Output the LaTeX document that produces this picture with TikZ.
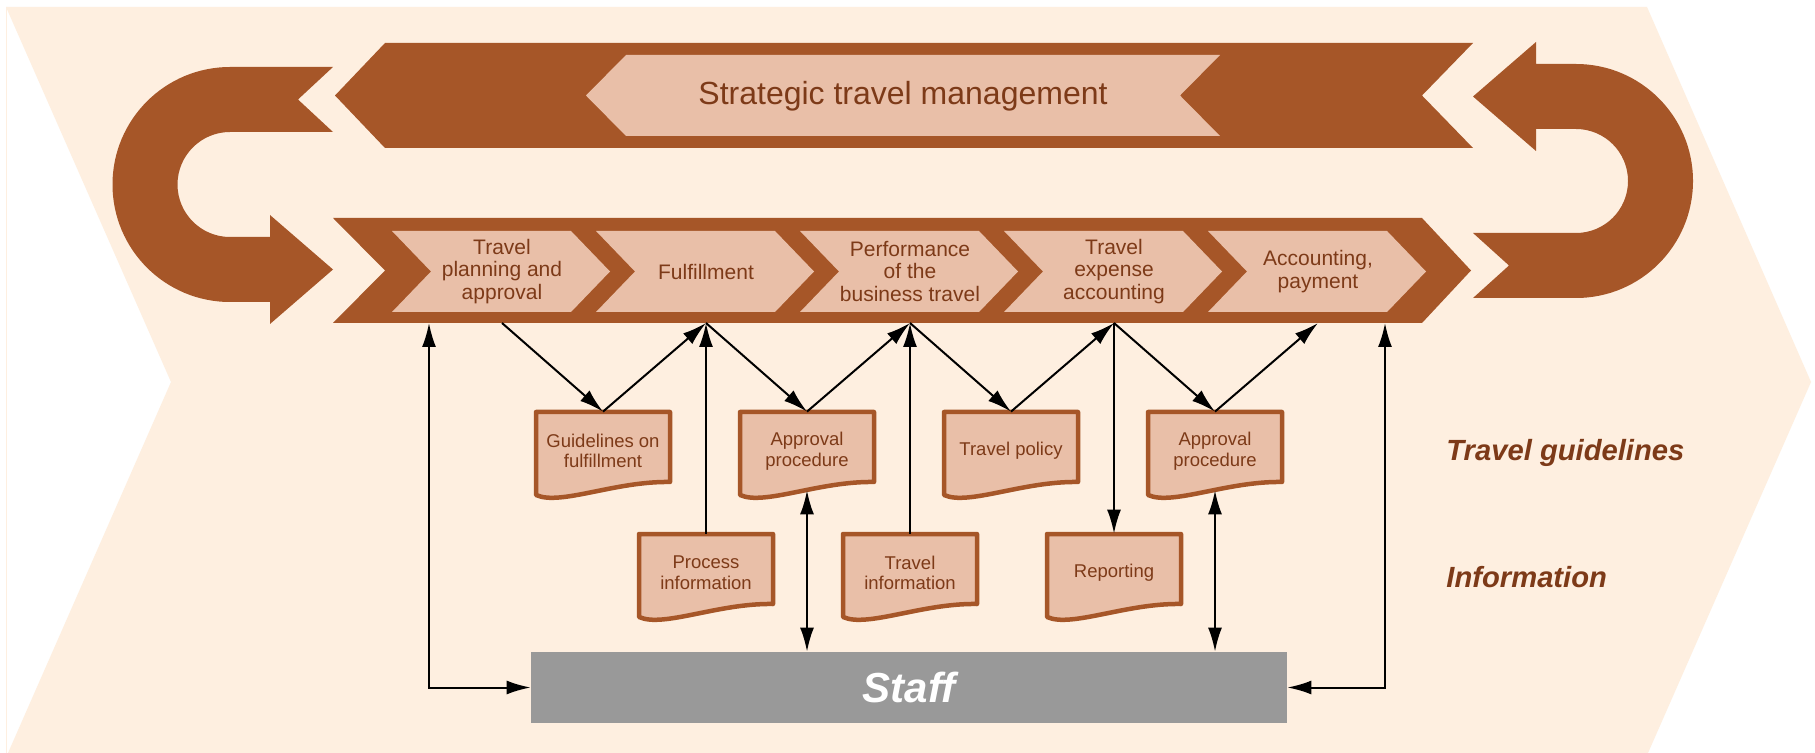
\documentclass[tikz,border=0pt]{standalone}
\usepackage{fontspec}
\setmainfont{Liberation Sans}
\usepackage{tikz}
\usetikzlibrary{arrows.meta,calc,positioning}
\definecolor{bandbrown}{HTML}{A65628}
\definecolor{chevfill}{HTML}{E9BFA8}
\definecolor{bgpeach}{HTML}{FEEFE0}
\definecolor{txtbrown}{HTML}{7D3A18}
\definecolor{staffgray}{HTML}{999999}

\newcommand{\docbox}[4]{%
\draw[docline] (#2-67,#3) -- (#2+67,#3) -- (#2+67,#3+70)
  .. controls (#2+12,#3+69) and (#2-43,#3+94) .. (#2-67,#3+83) -- cycle;
\node[doctext] (#1) at (#2,#3+39) {#4};}

\begin{document}
\begin{tikzpicture}[x=0.5pt,y=-0.5pt,
  >={Latex[length=12pt,width=7pt]},
  conn/.style={line width=1pt,black},
  docline/.style={draw=bandbrown,fill=chevfill,line width=2.25pt,line join=round},
  doctext/.style={font=\fontsize{9.25}{10.3}\selectfont,text=txtbrown,align=center,
    minimum width=67pt,minimum height=39pt,inner sep=0pt},
  steptext/.style={font=\fontsize{10.5}{11.25}\selectfont,text=txtbrown,align=center,inner sep=0pt},
  sidetext/.style={font=\fontsize{14.6}{17}\selectfont\bfseries\itshape,text=txtbrown,
    anchor=west,inner sep=0pt}]
\fill[white] (0,0) rectangle (1815,753);
\useasboundingbox (0,0) rectangle (1815,753);

% big background arrow
\fill[bgpeach] (6,7) -- (1647,7) -- (1811,382) -- (1648,753) -- (8,753) -- (171,382) -- cycle;
\draw[bgpeach,line width=0.3pt] (6,7) -- (6,753);

% strategic band and loops
\fill[bandbrown] (335,95.5) -- (385,43) -- (1473,43) -- (1422,95.5) -- (1473,148) -- (385,148) -- cycle;
\fill[chevfill] (586,95.5) -- (626,55) -- (1220,55) -- (1180,95.5) -- (1220,136) -- (626,136) -- cycle;
\node[font=\fontsize{16}{19}\selectfont,text=txtbrown] (stm) at (903,96) {Strategic travel management};

\fill[bandbrown] (333,67) -- (298,99.5) -- (333,132) -- (230,132)
  arc[start angle=-90,end angle=-270,radius=52.5] -- (270,237) -- (270,215) -- (333,269.5)
  -- (270,324) -- (270,302) -- (230,302) arc[start angle=90,end angle=270,radius=117.5] -- cycle;
\fill[bandbrown] (1473,96.5) -- (1536,42) -- (1536,64) -- (1576,64)
  arc[start angle=-90,end angle=90,radius=117] -- (1473,298) -- (1509,265.5) -- (1473,233)
  -- (1576,233) arc[start angle=90,end angle=-90,radius=52] -- (1536,129) -- (1536,151) -- cycle;

% process band
\fill[bandbrown] (333,218) -- (1422,218) -- (1471,270.5) -- (1422,323) -- (333,323) -- (385,270.5) -- cycle;
\foreach \x/\nm/\txt in {392/st1/{Travel\\planning and\\approval}, 596/st2/Fulfillment,
    800/st3/{Performance\\of the\\business travel}, 1004/st4/{Travel\\expense\\accounting},
    1208/st5/{Accounting,\\payment}}{
  \fill[chevfill] (\x,231) -- (\x+179,231) -- (\x+218,271.5) -- (\x+179,312) -- (\x,312) -- (\x+39,271.5) -- cycle;
  \node[steptext] (\nm) at (\x+110,271.5) {\txt};
}
\coordinate (bb) at (0,323);
\coordinate (lft) at (429,323);
\coordinate (rgt) at (1385,323);

% documents
\docbox{g1}{603}{412}{Guidelines on\\fulfillment}
\docbox{a1}{807}{412}{Approval\\procedure}
\docbox{tp}{1011}{412}{Travel policy}
\docbox{a2}{1215}{412}{Approval\\procedure}
\docbox{pi}{706}{534}{Process\\information}
\docbox{ti}{910}{534}{Travel\\information}
\docbox{rp}{1114}{534}{Reporting}

\node[fill=staffgray,text=white,font=\fontsize{21}{25}\selectfont\bfseries\itshape,
  minimum width=378pt,minimum height=35.5pt,inner sep=0pt] (staff) at (909,687.5) {Staff};

\node[sidetext] (tg) at (1446,453) {Travel guidelines};
\node[sidetext] (inf) at (1446,577) {Information};

% connectors
\draw[conn,->] (st1 |- bb) -- (g1.north);
\draw[conn,->] (g1.north) -- (st2 |- bb);
\draw[conn,->] (st2 |- bb) -- (a1.north);
\draw[conn,->] (a1.north) -- (st3 |- bb);
\draw[conn,->] (st3 |- bb) -- (tp.north);
\draw[conn,->] (tp.north) -- (st4 |- bb);
\draw[conn,->] (st4 |- bb) -- (a2.north);
\draw[conn,->] (a2.north) -- (st5 |- bb);
\draw[conn,->] (pi.north) -- (st2 |- bb);
\draw[conn,->] (ti.north) -- (st3 |- bb);
\draw[conn,->] (st4 |- bb) -- (rp.north);
\draw[conn,<->] (a1.south) -- (a1 |- staff.north);
\draw[conn,<->] (a2.south) -- (a2 |- staff.north);
\draw[conn,<->] (lft) |- (staff.west);
\draw[conn,<->] (rgt) |- (staff.east);
\end{tikzpicture}
\end{document}
